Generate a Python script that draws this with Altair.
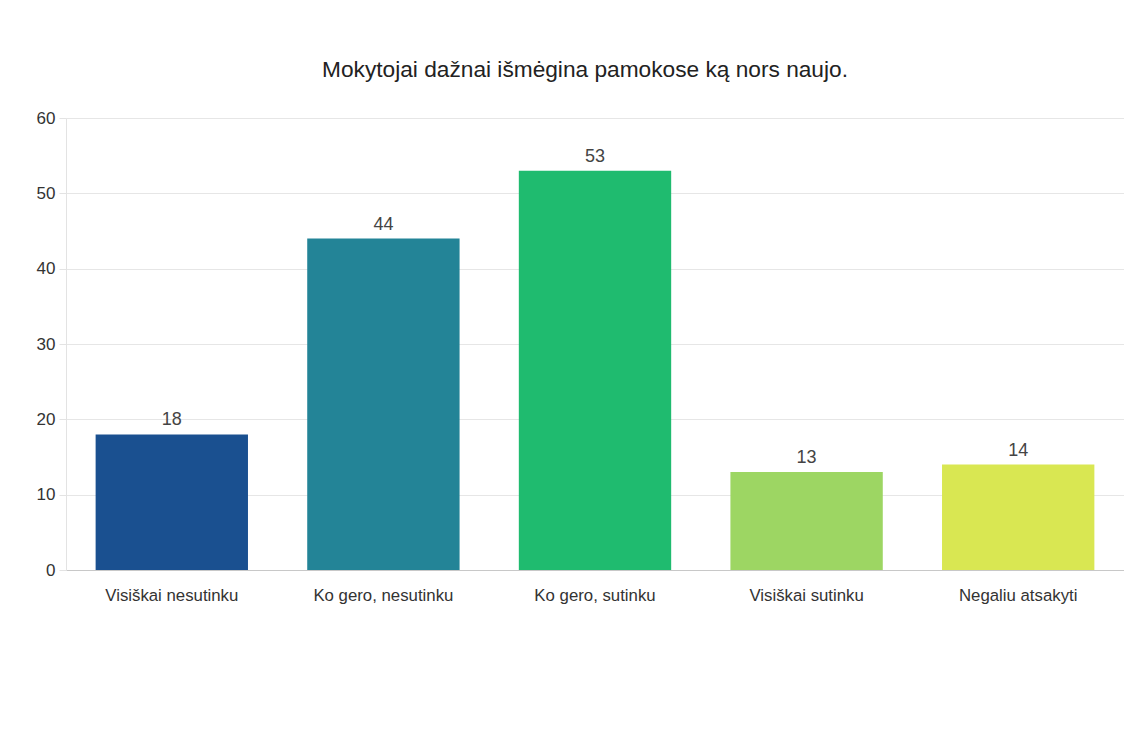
import altair as alt
import pandas as pd

categories = ["Visiškai nesutinku", "Ko gero, nesutinku", "Ko gero, sutinku", "Visiškai sutinku", "Negaliu atsakyti"]
values = [18, 44, 53, 13, 14]
colors = ["#1a5090", "#238497", "#1fbb6f", "#9dd663", "#d9e752"]
y_ticks = [0, 10, 20, 30, 40, 50, 60]
title_text = "Mokytojai dažnai išmėgina pamokose ką nors naujo."

df = pd.DataFrame({"cat": categories, "val": values})
FONT = "Liberation Sans, Arial, sans-serif"

x_enc = alt.X("cat:N", sort=categories, title=None,
              scale=alt.Scale(paddingInner=0.28, paddingOuter=0.14),
              axis=alt.Axis(labelAngle=0, labelFontSize=16.8, labelColor="#333",
                            labelFont=FONT, tickSize=0, labelPadding=17,
                            domainColor="#c8c8c8", domainWidth=1.2, grid=False))
y_enc = alt.Y("val:Q", title=None,
              scale=alt.Scale(domain=[0, 60], nice=False),
              axis=alt.Axis(values=y_ticks, labelFontSize=17, labelColor="#333",
                            labelFont=FONT, tickSize=7, tickColor="#e3e3e3",
                            labelPadding=4, gridColor="#e6e6e6", domainColor="#e3e3e3"))

bars = alt.Chart(df).mark_bar().encode(
    x=x_enc, y=y_enc,
    color=alt.Color("cat:N", sort=categories,
                    scale=alt.Scale(domain=categories, range=colors), legend=None),
)
labels = alt.Chart(df).mark_text(dy=-5, baseline="bottom", fontSize=18, color="#444", font=FONT).encode(
    x=alt.X("cat:N", sort=categories), y="val:Q", text="val:Q"
)

chart = (bars + labels).properties(
    width=1058, height=452,
    title=alt.TitleParams(title_text, fontSize=22.7, font=FONT, fontWeight="normal",
                          color="#222", anchor="middle", dx=-10, offset=27),
    autosize=alt.AutoSizeParams(type="none"),
    padding={"left": 58, "top": 110, "right": 0, "bottom": 150},
    background="white",
).configure_view(stroke=None)

chart.save("out.html", embed_options={"renderer": "svg", "actions": False})
